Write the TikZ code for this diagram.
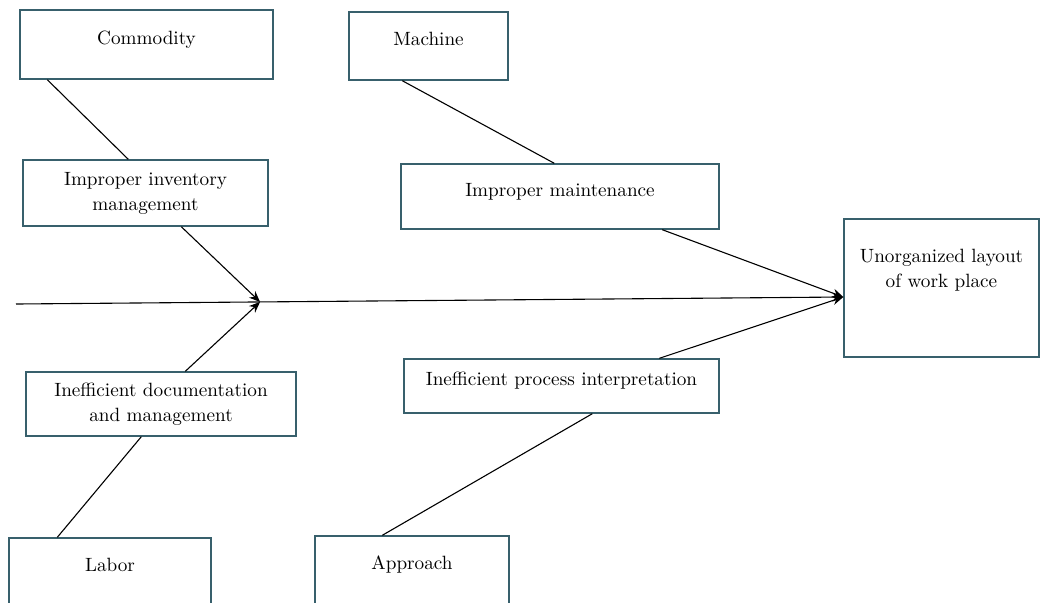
\documentclass[tikz,border=0pt]{standalone}
\usepackage{tikz}
\usetikzlibrary{calc}
\usetikzlibrary{arrows.meta}
\usepackage{xcolor}
\definecolor{boxline}{RGB}{56,96,108}
\tikzset{
cause/.style = {draw=boxline,
        line width=0.7pt,
        rectangle,
        align=center,
        inner sep=0pt,
        font=\fontsize{9.6}{12.5}\selectfont
            },
% single line boxes keep their text in the upper part
oneline/.style = {text depth=7pt},
bone/.style = {black,
        line width=0.55pt
            },
headbone/.style = {bone,
        -{Stealth[length=5.5pt,width=4.5pt]}
            }
        }

\begin{document}
\begin{tikzpicture}[x=0.5pt, y=-0.5pt]

\useasboundingbox (0,0) rectangle (1040,602);
\clip (0,0) rectangle (1040,602);

%%% Boxes:

\node[cause, oneline, minimum width=126.5pt, minimum height=34.5pt] (commodity) at (146.5,44.5) {Commodity};
\node[cause, oneline, minimum width=79.5pt, minimum height=34pt] (machine) at (428.5,46) {Machine};
\node[cause, minimum width=122.5pt, minimum height=33pt] (inventory) at (145.5,193) {Improper inventory\\management};
\node[cause, oneline, minimum width=159pt, minimum height=32.5pt] (maintenance) at (560,196.5) {Improper maintenance};
\node[cause, text depth=20pt, minimum width=97.5pt, minimum height=69pt] (effect) at (941.5,288) {Unorganized layout\\of work place};
\node[cause, oneline, minimum width=157.5pt, minimum height=27pt] (process) at (561.5,386) {Inefficient process interpretation};
\node[cause, minimum width=135pt, minimum height=32pt] (documentation) at (161,404) {Inefficient documentation\\and management};
\node[cause, oneline, minimum width=101pt, minimum height=34pt] (labor) at (110,572) {Labor};
\node[cause, oneline, minimum width=97pt, minimum height=34pt] (approach) at (412,570) {Approach};

%%% Defining points:

\coordinate (tail) at (16,304);
\coordinate (head) at ($(effect.west)+(0,9)$);
\coordinate (junction) at ($(tail)!0.295!(head)$);

%%% Spine:

\draw[headbone] (tail) -- (head);

%%% Bones:

\draw[bone]
     ($(commodity.south west)+(28,0)$) --
     ($(inventory.north west)+(106,0)$);

\draw[headbone]
     ($(inventory.south west)+(159,0)$) --
     (junction);

\draw[headbone]
     ($(documentation.north west)+(160,0)$) --
     (junction);

\draw[bone]
     ($(labor.north west)+(49,0)$) --
     ($(documentation.south west)+(116,0)$);

\draw[bone]
     ($(machine.south west)+(54,0)$) --
     ($(maintenance.north west)+(154,0)$);

\draw[headbone]
     ($(maintenance.south west)+(262,0)$) --
     (head);

\draw[headbone]
     ($(process.north west)+(256,0)$) --
     (head);

\draw[bone]
     ($(approach.north west)+(68,0)$) --
     ($(process.south west)+(189,0)$);

\end{tikzpicture}
\end{document}
